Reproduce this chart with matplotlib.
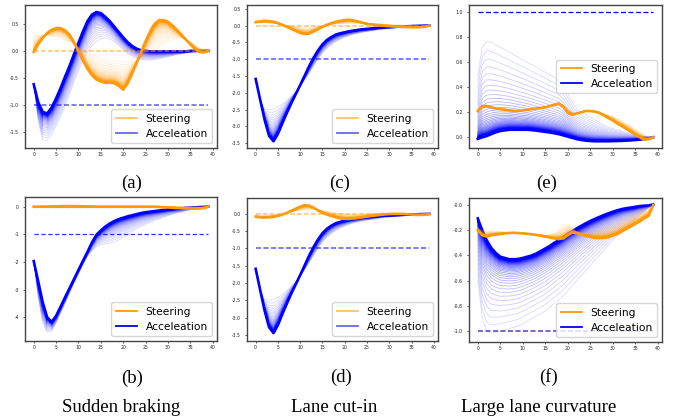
import numpy as np
import matplotlib
matplotlib.use("Agg")
import matplotlib.pyplot as plt
from matplotlib.lines import Line2D

steps = np.arange(40)

# ---------------- (a) ----------------
A_acc_fin = [-0.62, -0.95, -1.13, -1.16, -1.05, -0.88, -0.69, -0.48, -0.28, -0.06,
             0.15, 0.36, 0.55, 0.67, 0.72, 0.70, 0.63, 0.55, 0.45, 0.35,
             0.25, 0.16, 0.09, 0.04, 0.01, 0.0, -0.01, -0.01, -0.01, -0.01,
             -0.01, -0.01, -0.01, -0.01, -0.01, 0.0, 0.0, 0.0, 0.0, 0.0]
A_acc_init = [-0.62, -1.30, -1.65, -1.66, -1.55, -1.40, -1.22, -1.02, -0.80, -0.58,
              -0.37, -0.18, -0.02, 0.10, 0.18, 0.22, 0.24, 0.22, 0.17, 0.10,
              0.02, -0.05, -0.10, -0.14, -0.16, -0.17, -0.17, -0.16, -0.15, -0.13,
              -0.11, -0.09, -0.07, -0.06, -0.04, -0.03, -0.02, -0.01, 0.0, 0.0]
A_str_fin = [-0.02, 0.12, 0.24, 0.33, 0.39, 0.42, 0.42, 0.38, 0.30, 0.16,
             -0.01, -0.18, -0.33, -0.45, -0.53, -0.57, -0.59, -0.59, -0.60, -0.65,
             -0.72, -0.60, -0.42, -0.22, -0.02, 0.18, 0.36, 0.50, 0.57, 0.57,
             0.54, 0.47, 0.39, 0.30, 0.21, 0.12, 0.04, -0.02, -0.03, 0.0]
A_str_init = [0.30, 0.30, 0.29, 0.28, 0.27, 0.26, 0.24, 0.21, 0.17, 0.12,
              0.07, 0.02, -0.03, -0.07, -0.10, -0.13, -0.15, -0.17, -0.19, -0.20,
              -0.21, -0.21, -0.20, -0.18, -0.15, -0.11, -0.06, 0.0, 0.06, 0.12,
              0.17, 0.21, 0.23, 0.23, 0.21, 0.17, 0.11, 0.06, 0.02, 0.0]

# ---------------- (c) ----------------
C_acc_fin = [-1.59, -2.20, -2.80, -3.28, -3.44, -3.22, -2.90, -2.60, -2.31, -2.04,
             -1.77, -1.49, -1.21, -0.96, -0.74, -0.56, -0.43, -0.34, -0.27, -0.23,
             -0.20, -0.17, -0.15, -0.13, -0.11, -0.10, -0.085, -0.072, -0.06, -0.052,
             -0.045, -0.038, -0.032, -0.027, -0.022, -0.017, -0.012, -0.008, -0.004, 0.0]
C_acc_init = [-1.59, -2.20, -2.48, -2.50, -2.48, -2.42, -2.33, -2.22, -2.10, -1.97,
              -1.80, -1.62, -1.42, -1.21, -1.00, -0.82, -0.68, -0.57, -0.48, -0.41,
              -0.35, -0.30, -0.26, -0.23, -0.20, -0.18, -0.16, -0.14, -0.12, -0.10,
              -0.09, -0.08, -0.07, -0.06, -0.05, -0.04, -0.03, -0.02, -0.01, 0.0]
C_str_fin = [0.10, 0.12, 0.14, 0.13, 0.11, 0.07, 0.02, -0.04, -0.10, -0.16,
             -0.22, -0.25, -0.24, -0.18, -0.11, -0.04, 0.02, 0.07, 0.11, 0.14,
             0.16, 0.17, 0.15, 0.12, 0.08, 0.05, 0.03, 0.01, 0.0, -0.01,
             -0.02, -0.03, -0.035, -0.04, -0.045, -0.05, -0.05, -0.05, -0.04, 0.0]
C_str_init = [0.08, 0.08, 0.08, 0.07, 0.06, 0.05, 0.03, 0.01, -0.01, -0.03,
              -0.05, -0.06, -0.06, -0.05, -0.03, -0.01, 0.01, 0.03, 0.04, 0.05,
              0.06, 0.07, 0.07, 0.07, 0.07, 0.07, 0.06, 0.06, 0.05, 0.04,
              0.03, 0.02, 0.02, 0.01, 0.0, 0.0, -0.01, -0.01, -0.01, 0.0]

# ---------------- (e) ----------------
E_acc_fin = [-0.013, 0.0, 0.01, 0.025, 0.04, 0.05, 0.055, 0.06, 0.06, 0.06,
             0.06, 0.06, 0.057, 0.053, 0.048, 0.043, 0.038, 0.032, 0.025, 0.015,
             0.005, -0.005, -0.015, -0.022, -0.027, -0.03, -0.032, -0.032, -0.032, -0.032,
             -0.031, -0.03, -0.029, -0.027, -0.025, -0.022, -0.019, -0.015, -0.01, 0.0]
E_acc_init = [0.50, 0.72, 0.77, 0.76, 0.74, 0.72, 0.70, 0.68, 0.66, 0.64,
              0.62, 0.60, 0.58, 0.56, 0.54, 0.52, 0.50, 0.48, 0.46, 0.42,
              0.35, 0.28, 0.23, 0.20, 0.18, 0.16, 0.14, 0.12, 0.10, 0.08,
              0.07, 0.06, 0.05, 0.04, 0.03, 0.02, 0.015, 0.01, 0.005, 0.0]
E_str_fin = [0.21, 0.25, 0.25, 0.24, 0.23, 0.225, 0.22, 0.215, 0.21, 0.21,
             0.215, 0.22, 0.225, 0.23, 0.235, 0.24, 0.25, 0.26, 0.27, 0.245,
             0.195, 0.18, 0.19, 0.20, 0.21, 0.21, 0.205, 0.195, 0.175, 0.155,
             0.135, 0.11, 0.09, 0.067, 0.045, 0.02, 0.0, -0.02, -0.015, 0.0]
E_str_init = [0.20, 0.23, 0.24, 0.235, 0.23, 0.225, 0.22, 0.215, 0.21, 0.21,
              0.215, 0.22, 0.225, 0.23, 0.235, 0.24, 0.245, 0.25, 0.26, 0.26,
              0.23, 0.20, 0.19, 0.20, 0.21, 0.21, 0.21, 0.20, 0.19, 0.18,
              0.165, 0.15, 0.13, 0.11, 0.09, 0.065, 0.04, 0.015, 0.0, 0.0]

# ---------------- (b) ----------------
B_acc_fin = [-1.97, -2.70, -3.45, -4.00, -4.17, -3.95, -3.62, -3.28, -2.95, -2.62,
             -2.29, -1.96, -1.64, -1.30, -1.02, -0.86, -0.72, -0.61, -0.52, -0.45,
             -0.40, -0.35, -0.31, -0.27, -0.23, -0.20, -0.18, -0.16, -0.14, -0.12,
             -0.10, -0.085, -0.07, -0.06, -0.045, -0.035, -0.025, -0.015, -0.008, 0.0]
B_acc_init = [-1.97, -3.30, -4.20, -4.55, -4.50, -4.20, -3.85, -3.50, -3.12, -2.77,
              -2.43, -2.10, -1.80, -1.60, -1.45, -1.38, -1.35, -1.32, -1.27, -1.20,
              -1.10, -1.00, -0.90, -0.80, -0.72, -0.64, -0.57, -0.50, -0.44, -0.38,
              -0.33, -0.28, -0.23, -0.19, -0.15, -0.12, -0.09, -0.06, -0.03, 0.0]
B_str_fin = [0.0, 0.0, 0.0, 0.0, 0.0, 0.0, 0.0, 0.0, 0.0, 0.0,
             0.0, 0.0, 0.0, 0.0, 0.0, 0.0, 0.0, 0.0, 0.0, 0.0,
             0.0, 0.0, 0.0, 0.0, 0.0, 0.0, 0.0, 0.0, -0.01, -0.02,
             -0.03, -0.04, -0.05, -0.06, -0.065, -0.07, -0.07, -0.065, -0.05, 0.0]
B_str_init = [0.0, 0.01, 0.02, 0.03, 0.04, 0.05, 0.06, 0.07, 0.07, 0.07,
              0.06, 0.05, 0.04, 0.03, 0.02, 0.01, 0.0, 0.0, 0.0, 0.0,
              0.0, 0.0, 0.0, 0.0, 0.0, 0.0, 0.0, 0.0, 0.0, 0.0,
              0.0, 0.0, 0.0, 0.0, 0.0, 0.0, 0.0, 0.0, 0.0, 0.0]

# ---------------- (d) ----------------
D_acc_fin = [-1.59, -2.20, -2.80, -3.28, -3.45, -3.22, -2.90, -2.60, -2.31, -2.04,
             -1.77, -1.49, -1.21, -0.96, -0.74, -0.56, -0.43, -0.34, -0.27, -0.23,
             -0.20, -0.17, -0.15, -0.13, -0.11, -0.10, -0.085, -0.072, -0.06, -0.052,
             -0.045, -0.038, -0.032, -0.027, -0.022, -0.017, -0.012, -0.008, -0.004, 0.0]
D_acc_init = [-1.59, -2.20, -2.48, -2.50, -2.48, -2.42, -2.33, -2.22, -2.10, -1.97,
              -1.80, -1.62, -1.42, -1.21, -1.00, -0.82, -0.68, -0.57, -0.48, -0.41,
              -0.35, -0.30, -0.26, -0.23, -0.20, -0.18, -0.16, -0.14, -0.12, -0.10,
              -0.09, -0.08, -0.07, -0.06, -0.05, -0.04, -0.03, -0.02, -0.01, 0.0]
D_str_fin = [-0.08, -0.10, -0.105, -0.10, -0.085, -0.06, -0.02, 0.03, 0.09, 0.15,
             0.21, 0.25, 0.24, 0.18, 0.10, 0.03, -0.02, -0.06, -0.10, -0.13,
             -0.145, -0.145, -0.135, -0.12, -0.10, -0.08, -0.06, -0.045, -0.03, -0.015,
             -0.005, 0.0, 0.0, 0.0, -0.01, -0.02, -0.03, -0.03, -0.025, 0.0]
D_str_init = [-0.05, -0.05, -0.05, -0.04, -0.03, -0.02, 0.0, 0.02, 0.05, 0.08,
              0.10, 0.12, 0.13, 0.13, 0.12, 0.10, 0.08, 0.05, 0.03, 0.01,
              0.0, -0.01, -0.01, -0.01, 0.0, 0.0, 0.01, 0.01, 0.02, 0.02,
              0.02, 0.02, 0.01, 0.01, 0.0, 0.0, 0.0, 0.0, 0.0, 0.0]

# ---------------- (f) ----------------
F_acc_fin = [-0.106, -0.20, -0.28, -0.34, -0.38, -0.41, -0.42, -0.43, -0.43, -0.428,
             -0.42, -0.41, -0.40, -0.385, -0.365, -0.345, -0.325, -0.30, -0.28, -0.255,
             -0.23, -0.208, -0.185, -0.165, -0.145, -0.127, -0.11, -0.095, -0.08, -0.066,
             -0.053, -0.042, -0.032, -0.025, -0.02, -0.014, -0.008, -0.005, -0.003, 0.005]
F_acc_init = [-0.60, -0.90, -1.00, -1.02, -1.01, -1.00, -0.99, -0.98, -0.97, -0.96,
              -0.94, -0.92, -0.90, -0.88, -0.86, -0.84, -0.81, -0.78, -0.75, -0.72,
              -0.68, -0.64, -0.60, -0.56, -0.52, -0.48, -0.44, -0.40, -0.36, -0.32,
              -0.28, -0.24, -0.20, -0.17, -0.14, -0.11, -0.08, -0.05, -0.02, 0.0]
F_str_fin = [-0.20, -0.24, -0.25, -0.24, -0.235, -0.23, -0.225, -0.222, -0.22, -0.222,
             -0.225, -0.228, -0.233, -0.238, -0.243, -0.25, -0.258, -0.265, -0.27, -0.265,
             -0.24, -0.217, -0.222, -0.235, -0.245, -0.253, -0.26, -0.262, -0.26, -0.255,
             -0.243, -0.23, -0.21, -0.19, -0.17, -0.15, -0.13, -0.105, -0.085, 0.0]
F_str_init = [-0.18, -0.20, -0.205, -0.21, -0.21, -0.21, -0.215, -0.215, -0.22, -0.22,
              -0.22, -0.225, -0.228, -0.232, -0.235, -0.238, -0.235, -0.225, -0.20, -0.17,
              -0.15, -0.18, -0.21, -0.22, -0.22, -0.215, -0.205, -0.19, -0.175, -0.16,
              -0.145, -0.13, -0.11, -0.09, -0.07, -0.05, -0.035, -0.02, -0.01, 0.0]

# reference levels (steering, acceleration)
refs = {"a": (0.0, -1.0), "c": (0.0, -1.0), "e": (0.0, 1.0),
        "b": (0.0, -1.0), "d": (0.0, -1.0), "f": (-1.0, -1.0)}

captions = {"a": "(a)", "b": "(b)", "c": "(c)", "d": "(d)", "e": "(e)", "f": "(f)"}
scenarios = ["Sudden braking", "Lane cut-in", "Large lane curvature"]

ORANGE = "#ff9a0a"
BLUE = "blue"
N_ITER = 40
RATIO = 0.9

W, H = 677, 417
fig = plt.figure(figsize=(W / 100, H / 100), dpi=100)


def rect(x0, x1, y0, y1):
    return [x0 / W, 1 - y1 / H, (x1 - x0) / W, (y1 - y0) / H]


def fan(ax, init, fin, color, z):
    init = np.asarray(init, float)
    fin = np.asarray(fin, float)
    for k in range(N_ITER):
        w = RATIO ** k
        ax.plot(steps, fin + (init - fin) * w, color=color, lw=0.6,
                alpha=0.14 + 0.6 * k / N_ITER, zorder=z)
    ax.plot(steps, fin, color=color, lw=1.9, zorder=z + 0.5)


panels = [
    ("a", rect(25, 217, 5, 148), A_acc_init, A_acc_fin, A_str_init, A_str_fin,
     (-1.80, 0.85), np.arange(-1.5, 0.51, 0.5), "{:.1f}", "lower right", 0.6),
    ("c", rect(247, 438, 5, 148), C_acc_init, C_acc_fin, C_str_init, C_str_fin,
     (-3.64, 0.61), np.arange(-3.5, 0.51, 0.5), "{:.1f}", "lower right", 0.6),
    ("e", rect(469, 662, 5, 148), E_acc_init, E_acc_fin, E_str_init, E_str_fin,
     (-0.086, 1.058), np.arange(0.0, 1.01, 0.2), "{:.1f}", "center right", 1.0),
    ("b", rect(25, 217, 197, 341), B_acc_init, B_acc_fin, B_str_init, B_str_fin,
     (-4.86, 0.35), np.arange(-4, 0.1, 1), "{:.0f}", "lower right", 1.0),
    ("d", rect(247, 438, 198, 341), D_acc_init, D_acc_fin, D_str_init, D_str_fin,
     (-3.68, 0.46), np.arange(-3.5, 0.01, 0.5), "{:.1f}", "lower right", 0.6),
    ("f", rect(469, 662, 198, 342), F_acc_init, F_acc_fin, F_str_init, F_str_fin,
     (-1.087, 0.056), np.arange(-1.0, 0.01, 0.2), "{:.1f}", "lower right", 1.0),
]

for key, r, acc_i, acc_f, str_i, str_f, ylim, yt, fmt, loc, leg_alpha in panels:
    ax = fig.add_axes(r)
    s_ref, a_ref = refs[key]
    ref_x = [steps[0], steps[-1]]
    fan(ax, acc_i, acc_f, BLUE, 1)
    fan(ax, str_i, str_f, ORANGE, 2)
    if key == "e":
        ax.plot(ref_x, [a_ref, a_ref], color=BLUE, ls=(0, (4, 2)), lw=0.9, zorder=4)
    elif key == "f":
        ax.plot(ref_x, [s_ref, s_ref], color=ORANGE, ls=(0, (3, 1.5)), lw=1.2, alpha=0.5, zorder=4)
        ax.plot(ref_x, [a_ref, a_ref], color=BLUE, ls=(0, (3, 1.5)), lw=1.2, alpha=0.6, zorder=4)
    elif key == "b":
        ax.plot(ref_x, [s_ref, s_ref], color=ORANGE, ls=(0, (3, 1.5)), lw=1.0, alpha=0.6, zorder=0.5)
        ax.plot(ref_x, [a_ref, a_ref], color=BLUE, ls=(0, (3.5, 2)), lw=0.9, alpha=0.8, zorder=4)
    else:
        ax.plot(ref_x, [s_ref, s_ref], color=ORANGE, ls=(0, (3, 1.5)), lw=1.1, alpha=0.6, zorder=4)
        ax.plot(ref_x, [a_ref, a_ref], color=BLUE, ls=(0, (3, 1.5)), lw=1.2, alpha=0.6, zorder=4)

    ax.set_xlim(-1.95, 40.95)
    ax.set_ylim(*ylim)
    ax.set_xticks(np.arange(0, 41, 5))
    ax.set_yticks(yt)
    ax.set_yticklabels([fmt.format(v) for v in yt])
    ax.tick_params(axis="both", labelsize=3.3, length=1.3, width=0.5, colors="#222222")
    ax.tick_params(axis="x", pad=1.6)
    ax.tick_params(axis="y", pad=3.0)
    for sp in ax.spines.values():
        sp.set_color("#444444")
        sp.set_linewidth(1.0)

    handles = [Line2D([], [], color=ORANGE, lw=1.3, alpha=leg_alpha),
               Line2D([], [], color=BLUE, lw=1.3, alpha=leg_alpha)]
    ax.legend(handles, ["Steering", "Acceleation"], loc=loc, fontsize=7.7,
              handlelength=2.0, borderaxespad=0.45)

serif = ["Liberation Serif", "DejaVu Serif"]
cap_pos = {"a": (131.5, 183), "c": (340, 183), "e": (547, 183),
           "b": (132, 378), "d": (341, 377), "f": (548, 377)}
for k, (px, py) in cap_pos.items():
    fig.text(px / W, 1 - py / H, captions[k], ha="center", va="center",
             fontsize=13.5, family=serif)
for (px, py), txt in zip([(121, 407), (334, 407), (539, 407)], scenarios):
    fig.text(px / W, 1 - py / H, txt, ha="center", va="center",
             fontsize=13.5, family=serif)

fig.savefig("out.png", dpi=100)
